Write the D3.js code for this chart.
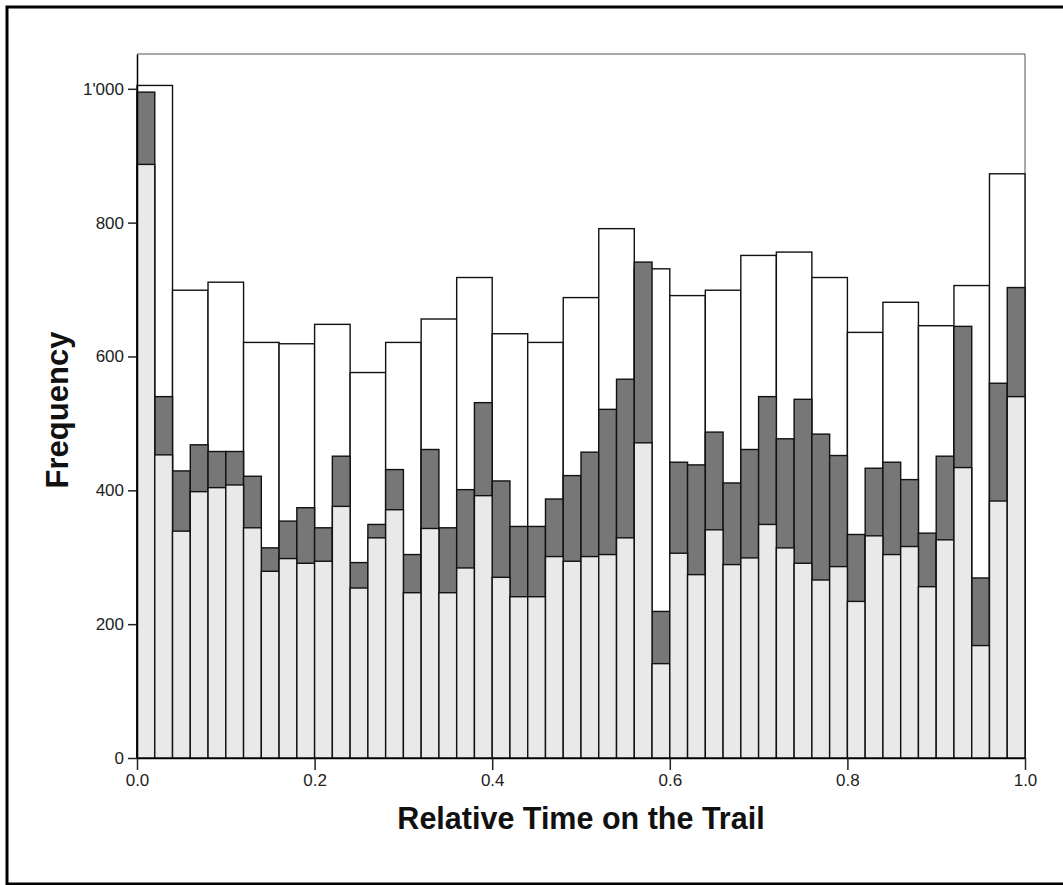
<!DOCTYPE html>
<html>
<head>
<meta charset="utf-8">
<script src="https://cdn.jsdelivr.net/npm/d3@7"></script>
<style>
  body { margin: 0; background: #fff; }
  svg { display: block; }
  text { font-family: "Liberation Sans", Arial, sans-serif; }
</style>
</head>
<body>
<svg id="chart" width="1063" height="885"></svg>
<script>
// ---- data ----
// Wide bins (width 0.04), white bars
const wideBinWidth = 0.04;
const wideCounts = [1005, 699, 711, 621, 619, 648, 576, 621, 656, 718, 634, 621, 688,
                    791, 731, 691, 699, 751, 756, 718, 636, 681, 646, 706, 873];
// Narrow bins (width 0.02), dark gray bars (total)
const narrowBinWidth = 0.02;
const darkCounts = [995, 540, 429, 468, 458, 458, 421, 314, 354, 374,
                    344, 451, 292, 349, 431, 304, 461, 344, 401, 531,
                    414, 346, 346, 387, 422, 457, 521, 566, 741, 219,
                    442, 438, 487, 411, 461, 540, 477, 536, 484, 452,
                    334, 433, 442, 416, 336, 451, 645, 269, 560, 703];
// Narrow bins, light gray bars (front)
const lightCounts = [887, 453, 339, 398, 404, 408, 344, 279, 298, 291,
                     294, 376, 254, 329, 371, 247, 343, 247, 284, 392,
                     270, 241, 241, 301, 294, 301, 304, 329, 471, 141,
                     306, 274, 341, 289, 299, 349, 314, 291, 266, 286,
                     234, 332, 304, 316, 256, 326, 434, 168, 384, 540];
const xTicks = [0, 0.2, 0.4, 0.6, 0.8, 1.0];
const yTicks = [0, 200, 400, 600, 800, 1000];
const xTitle = "Relative Time on the Trail";
const yTitle = "Frequency";

(function () {
  // ---- layout ----
  const pL = 137, pR = 1025, pT = 54, pB = 758;
  const svg = d3.select("#chart");

  const x = d3.scaleLinear().domain([0, 1]).range([pL, pR]);
  const y = d3.scaleLinear().domain([0, 1052]).range([pB, pT]);

  const loc = d3.formatLocale({decimal: ".", thousands: "'", grouping: [3], currency: ["", ""]});
  const yFmt = loc.format(",");

  // outer border
  svg.append("path")
    .attr("d", "M1070,7 H7 V884 H1070")
    .attr("fill", "none").attr("stroke", "#000").attr("stroke-width", 3);

  // plot frame (top / right)
  svg.append("path")
    .attr("d", `M${pL},${pT} H${pR} V${pB}`)
    .attr("fill", "none").attr("stroke", "#555").attr("stroke-width", 1);

  const wide = wideCounts.map((v, i) => ({x0: i * wideBinWidth, x1: (i + 1) * wideBinWidth, v}));
  const narrowDark = darkCounts.map((v, i) => ({x0: i * narrowBinWidth, x1: (i + 1) * narrowBinWidth, v}));
  const narrowLight = lightCounts.map((v, i) => ({x0: i * narrowBinWidth, x1: (i + 1) * narrowBinWidth, v}));

  function drawBars(data, fill) {
    svg.append("g").selectAll("rect").data(data).join("rect")
      .attr("x", d => x(d.x0))
      .attr("y", d => y(d.v))
      .attr("width", d => x(d.x1) - x(d.x0))
      .attr("height", d => y(0) - y(d.v))
      .attr("fill", fill)
      .attr("stroke", "#111")
      .attr("stroke-width", 1.4);
  }
  drawBars(wide, "#ffffff");
  drawBars(narrowDark, "#777777");
  drawBars(narrowLight, "#e9e9e9");

  // axes
  const xAxis = d3.axisBottom(x).tickValues(xTicks).tickFormat(d3.format(".1f"))
    .tickSizeOuter(0).tickSizeInner(12).tickPadding(4);
  const gx = svg.append("g").attr("transform", `translate(0,${pB})`).call(xAxis);
  gx.select(".domain").attr("stroke", "#000").attr("stroke-width", 1.5);
  gx.selectAll(".tick line").attr("stroke", "#222").attr("stroke-width", 1.5);
  gx.selectAll("text").attr("font-size", 17).attr("fill", "#222")
    .attr("font-family", "'Liberation Sans', Arial, sans-serif");

  const yAxis = d3.axisLeft(y).tickValues(yTicks).tickFormat(yFmt)
    .tickSizeOuter(0).tickSizeInner(9).tickPadding(4);
  const gy = svg.append("g").attr("transform", `translate(${pL},0)`).call(yAxis);
  gy.select(".domain").attr("stroke", "#000").attr("stroke-width", 1.5);
  gy.selectAll(".tick line").attr("stroke", "#222").attr("stroke-width", 1.5);
  gy.selectAll("text").attr("font-size", 17).attr("fill", "#222")
    .attr("font-family", "'Liberation Sans', Arial, sans-serif");

  // titles
  svg.append("text")
    .attr("x", (pL + pR) / 2).attr("y", 829)
    .attr("text-anchor", "middle")
    .attr("font-size", 30.5).attr("font-weight", "bold").attr("fill", "#111")
    .text(xTitle);

  svg.append("text")
    .attr("transform", `translate(68,${(pT + pB) / 2 + 4}) rotate(-90)`)
    .attr("text-anchor", "middle")
    .attr("font-size", 31).attr("font-weight", "bold").attr("fill", "#111")
    .text(yTitle);
})();
</script>
</body>
</html>
